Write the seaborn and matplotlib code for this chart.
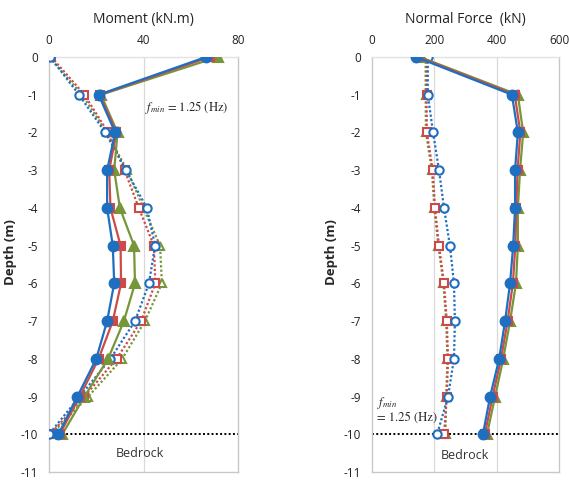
import matplotlib
matplotlib.use("Agg")
import matplotlib.pyplot as plt
import seaborn as sns
import pandas as pd

# Depth below ground surface (m)
depth = [0, -1, -2, -3, -4, -5, -6, -7, -8, -9, -10]

# Bending moment profiles (kN.m)
moment_blue_solid = [66.5, 21, 28, 24.6, 24.6, 27, 27.6, 24.6, 20, 12, 4]
moment_red_solid = [68, 21.5, 28.5, 25.5, 26, 30.3, 30.5, 27, 21, 13, 4.5]
moment_green_solid = [71.4, 22, 29, 27.6, 30, 36, 36.4, 31.7, 25, 15, 5.6]
moment_blue_dotted = [0.5, 12.7, 23.8, 32.6, 41.4, 44.9, 42.3, 36.4, 26, 13, 0]
moment_red_dotted = [1, 15, 25, 32, 38, 44.4, 45, 39, 28.6, 15, 0.5]
moment_green_dotted = [0, 14, 24.5, 33, 40, 47, 47.8, 40.6, 31, 16.6, 1]

# Normal force profiles (kN)
force_blue_solid = [141, 449, 468, 459, 459, 453, 443, 427, 408, 379, 356]
force_red_solid = [148, 458, 476, 467, 463, 460, 452, 435, 414, 387, 362]
force_green_solid = [154, 468, 485, 475, 468, 468, 462, 443, 421, 395, 369]
force_blue_dotted = [179, 179, 196, 215, 231, 250, 263, 266, 263, 244, 209]
force_red_dotted = [175, 175, 176, 195, 202, 215, 231, 240, 244, 240, 231]
force_green_dotted = [172, 172, 173, 192, 200, 213, 229, 238, 242, 238, 236]

moment_ticks = [0, 40, 80]
force_ticks = [0, 200, 400, 600]
depth_ticks = [0, -1, -2, -3, -4, -5, -6, -7, -8, -9, -10, -11]

BLUE = "#1f6fc0"
RED = "#cc4b48"
GREEN = "#76963a"

sns.set_style("white")
plt.rcParams["font.family"] = ["Open Sans", "DejaVu Sans"]
plt.rcParams["mathtext.fontset"] = "stix"

fig = plt.figure(figsize=(5.69, 4.8), dpi=100)
ax_m = fig.add_axes([49 / 569, 8 / 480, 189 / 569, 415 / 480])
ax_n = fig.add_axes([372 / 569, 8 / 480, 187 / 569, 415 / 480])

series_styles = [
    ("blue_solid", BLUE, "o", "-", True, 7.0),
    ("red_solid", RED, "s", "-", True, 6.0),
    ("green_solid", GREEN, "^", "-", True, 6.5),
    ("blue_dotted", BLUE, "o", (0, (1, 1)), False, 6.0),
    ("red_dotted", RED, "s", (0, (1, 1)), False, 5.5),
    ("green_dotted", GREEN, "^", (0, (1, 1)), False, 6.0),
]

moment_data = {
    "blue_solid": moment_blue_solid, "red_solid": moment_red_solid,
    "green_solid": moment_green_solid, "blue_dotted": moment_blue_dotted,
    "red_dotted": moment_red_dotted, "green_dotted": moment_green_dotted,
}
force_data = {
    "blue_solid": force_blue_solid, "red_solid": force_red_solid,
    "green_solid": force_green_solid, "blue_dotted": force_blue_dotted,
    "red_dotted": force_red_dotted, "green_dotted": force_green_dotted,
}


def draw_profiles(ax, data):
    order = ["green_dotted", "red_dotted", "blue_dotted",
             "green_solid", "red_solid", "blue_solid"]
    styles = {s[0]: s for s in series_styles}
    for z, key in enumerate(order):
        _, color, marker, ls, filled, ms = styles[key]
        df = pd.DataFrame({"value": data[key], "depth": depth})
        sns.lineplot(
            data=df, x="value", y="depth", ax=ax, sort=False, estimator=None,
            color=color, linestyle=ls, linewidth=1.6,
            marker=marker, markersize=ms,
            markerfacecolor=color if filled else "white",
            markeredgecolor=color, markeredgewidth=1.5, zorder=3 + z,
        )


def style_axes(ax, xlim, xticks, title, ylabel_x):
    ax.set_xlim(*xlim)
    ax.set_ylim(-11, 0)
    ax.xaxis.tick_top()
    ax.xaxis.set_label_position("top")
    ax.set_xticks(xticks)
    ax.set_yticks(depth_ticks)
    ax.set_yticklabels([str(t) for t in depth_ticks])
    ax.tick_params(axis="both", length=0, labelsize=8.5, colors="#222222")
    ax.tick_params(axis="x", pad=7)
    ax.tick_params(axis="y", pad=8)
    for t in xticks[1:-1]:
        ax.axvline(t, color="#d9d9d9", lw=0.9, zorder=0)
    for name, sp in ax.spines.items():
        sp.set_visible(True)
        sp.set_color("#c8c8c8")
        sp.set_linewidth(1.0)
    ax.spines["top"].set_color("#e2e2e2")
    ax.set_xlabel(title, fontsize=10, labelpad=8, color="#222222")
    ax.set_ylabel("Depth (m)", fontsize=9.5, fontweight="bold")
    ax.yaxis.set_label_coords(ylabel_x, 0.53)
    ax.axhline(-10, color="black", lw=1.4, linestyle=(0, (1, 1.2)), zorder=2)


draw_profiles(ax_m, moment_data)
draw_profiles(ax_n, force_data)
style_axes(ax_m, (0, 80), moment_ticks, "Moment (kN.m)", -0.17)
style_axes(ax_n, (0, 600), force_ticks, "Normal Force  (kN)", -0.18)

ax_m.text(40.5, -1.35, r"$f_{min}$ = 1.25 (Hz)", fontsize=9,
          family="STIXGeneral", va="center", ha="left", zorder=10)
ax_n.text(16, -9.35, "$f_{min}$\n= 1.25 (Hz)", fontsize=9,
          family="STIXGeneral", va="center", ha="left", zorder=10,
          linespacing=1.1)

ax_m.text(38.5, -10.5, "Bedrock", fontsize=9, ha="center", va="center",
          color="#333333")
ax_n.text(298, -10.55, "Bedrock", fontsize=9, ha="center", va="center",
          color="#333333")

fig.savefig("out.png", dpi=100)
